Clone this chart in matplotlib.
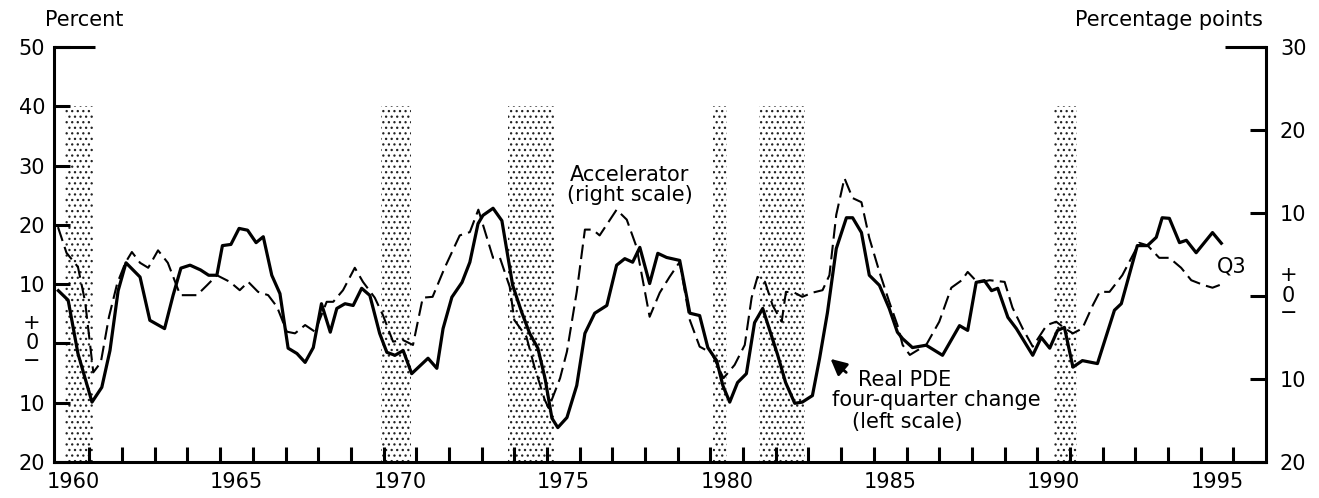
import matplotlib
matplotlib.use("Agg")
import matplotlib.pyplot as plt

plt.rcParams["font.family"] = ["DejaVu Sans"]
plt.rcParams["font.size"] = 15
plt.rcParams["hatch.linewidth"] = 0.9

# Real PDE, four-quarter change (left scale, percent)
pde_year = [1960.05, 1960.35, 1960.65, 1961.08, 1961.38, 1961.63, 1961.88, 1962.12, 1962.55,
            1962.85, 1963.3, 1963.56, 1963.8, 1964.08, 1964.4, 1964.65, 1964.9, 1965.07,
            1965.33, 1965.58, 1965.84, 1966.1, 1966.32, 1966.58, 1966.83, 1967.08, 1967.35,
            1967.6, 1967.85, 1968.1, 1968.37, 1968.57, 1968.82, 1969.07, 1969.33, 1969.58,
            1969.88, 1970.1, 1970.35, 1970.6, 1970.86, 1971.36, 1971.63, 1971.82, 1972.09,
            1972.4, 1972.64, 1972.89, 1973.04, 1973.35, 1973.62, 1973.95, 1974.23, 1974.47,
            1974.72, 1974.94, 1975.15, 1975.33, 1975.61, 1975.91, 1976.16, 1976.46, 1976.83,
            1977.13, 1977.38, 1977.62, 1977.84, 1978.14, 1978.39, 1978.66, 1979.06, 1979.37,
            1979.67, 1979.92, 1980.19, 1980.38, 1980.59, 1980.83, 1981.1, 1981.35, 1981.6,
            1982.06, 1982.3, 1982.58, 1982.81, 1983.12, 1983.34, 1983.58, 1983.85, 1984.16,
            1984.35, 1984.62, 1984.86, 1985.17, 1985.47, 1985.72, 1985.88, 1986.18, 1986.6,
            1987.1, 1987.62, 1987.87, 1988.13, 1988.38, 1988.6, 1988.79, 1989.1, 1989.36,
            1989.86, 1990.12, 1990.38, 1990.62, 1990.83, 1991.09, 1991.38, 1991.84, 1992.36,
            1992.57, 1993.06, 1993.37, 1993.64, 1993.82, 1994.04, 1994.35, 1994.56, 1994.86,
            1995.36, 1995.63]
pde_val = [8.9, 7.3, -1.7, -9.9, -7.4, -1.2, 8.9, 13.6, 11.2,
           3.9, 2.5, 8.1, 12.7, 13.2, 12.4, 11.5, 11.5, 16.5,
           16.7, 19.4, 19.1, 17.0, 18.0, 11.5, 8.4, -0.8, -1.7,
           -3.2, -0.7, 6.7, 1.9, 5.9, 6.7, 6.4, 9.3, 8.1,
           1.7, -1.5, -2.0, -1.2, -5.1, -2.5, -4.2, 2.5, 7.8,
           10.3, 13.7, 20.2, 21.6, 22.8, 20.7, 9.8, 5.2, 1.7,
           -0.8, -5.9, -12.6, -14.2, -12.5, -7.1, 1.7, 5.1, 6.4,
           13.2, 14.3, 13.7, 16.2, 10.1, 15.2, 14.5, 14.0, 5.1,
           4.7, -0.7, -2.9, -7.1, -9.9, -6.6, -5.1, 3.5, 5.9,
           -2.0, -6.6, -10.1, -9.9, -8.8, -2.5, 5.2, 16.0, 21.2,
           21.2, 18.7, 11.5, 9.8, 5.9, 1.9, 0.8, -0.7, -0.3,
           -2.0, 3.0, 2.2, 10.3, 10.6, 8.9, 9.3, 4.4, 2.5,
           -2.0, 1.0, -0.8, 2.2, 2.7, -4.0, -2.9, -3.4, 5.6,
           6.7, 16.5, 16.5, 17.9, 21.2, 21.1, 17.0, 17.4, 15.3,
           18.7, 16.9]

# Accelerator (right scale, percentage points)
acc_year = [1960.04, 1960.3, 1960.65, 1960.87, 1961.12, 1961.35, 1961.6, 1961.85, 1962.1,
            1962.3, 1962.55, 1962.8, 1963.1, 1963.4, 1963.78, 1964.29, 1964.6, 1964.9,
            1965.3, 1965.6, 1965.86, 1966.16, 1966.47, 1966.74, 1967.04, 1967.29, 1967.6,
            1967.9, 1968.26, 1968.46, 1968.76, 1969.12, 1969.37, 1969.73, 1969.98, 1970.29,
            1970.59, 1970.9, 1971.2, 1971.5, 1971.87, 1972.33, 1972.64, 1972.9, 1973.35,
            1973.56, 1973.86, 1974.0, 1974.37, 1974.62, 1974.93, 1975.05, 1975.4, 1975.61,
            1975.91, 1976.16, 1976.4, 1976.61, 1977.13, 1977.44, 1977.74, 1978.14, 1978.45,
            1978.75, 1979.06, 1979.37, 1979.67, 1980.04, 1980.4, 1980.74, 1981.05, 1981.26,
            1981.44, 1981.67, 1981.9, 1982.18, 1982.31, 1982.57, 1982.81, 1983.12, 1983.43,
            1983.64, 1983.85, 1984.1, 1984.35, 1984.62, 1984.86, 1985.17, 1985.47, 1985.72,
            1985.88, 1986.1, 1986.6, 1987.0, 1987.37, 1987.69, 1987.87, 1988.18, 1988.54,
            1989.0, 1989.24, 1989.55, 1989.86, 1990.29, 1990.58, 1990.84, 1991.09, 1991.38,
            1991.7, 1991.91, 1992.21, 1992.6, 1993.12, 1993.37, 1993.73, 1994.04, 1994.4,
            1994.71, 1995.1, 1995.36, 1995.63]
acc_val = [8.3, 5.2, 3.5, -0.7, -9.2, -8.0, -2.5, 1.5, 4.0,
           5.3, 4.0, 3.4, 5.5, 4.0, 0.1, 0.1, 1.3, 2.5,
           1.7, 0.7, 1.7, 0.5, 0.1, -1.3, -4.3, -4.5, -3.5,
           -4.3, -0.7, -0.7, 0.7, 3.4, 1.7, -0.2, -2.3, -5.5,
           -5.3, -5.9, -0.2, -0.1, 3.4, 7.3, 7.7, 10.4, 4.6,
           4.6, 1.1, -2.9, -4.9, -8.6, -12.5, -13.5, -9.9, -6.7,
           0.5, 8.0, 8.0, 7.3, 10.4, 9.2, 5.9, -2.5, 0.4,
           2.3, 4.1, -2.9, -6.1, -6.9, -9.9, -8.3, -5.9, -0.2,
           2.3, 1.7, -1.1, -3.1, 0.5, 0.4, -0.1, 0.4, 0.7,
           2.5, 9.8, 14.2, 11.8, 11.3, 7.0, 2.9, -0.7, -3.5,
           -5.9, -7.1, -5.9, -3.1, 1.0, 1.9, 2.9, 1.6, 1.9,
           1.7, -1.4, -3.9, -6.1, -3.5, -3.1, -3.9, -4.5, -3.9,
           -1.1, 0.5, 0.5, 2.5, 6.4, 6.1, 4.6, 4.6, 3.4,
           1.9, 1.3, 1.0, 1.4]

# recessions (shaded)
rec_start = [1960.25, 1969.92, 1973.8, 1980.07, 1981.5, 1990.5]
rec_end = [1961.1, 1970.83, 1975.2, 1980.52, 1982.88, 1991.2]
rec_top = 40

left_ticks = [-20, -10, 0, 10, 20, 30, 40, 50]
left_labels = ["20", "10", "", "10", "20", "30", "40", "50"]
right_ticks = [-20, -10, 0, 10, 20, 30]
right_labels = ["20", "10", "", "10", "20", "30"]
year_ticks = list(range(1961, 1997))
year_label_pos = [1960.5, 1965.5, 1970.5, 1975.5, 1980.5, 1985.5, 1990.5, 1995.5]
year_labels = ["1960", "1965", "1970", "1975", "1980", "1985", "1990", "1995"]

fig = plt.figure(figsize=(13.19, 4.98), dpi=100)
ax = fig.add_axes([0.041, 0.0723, 0.9189, 0.8333])
ax2 = ax.twinx()

ax.set_xlim(1959.92, 1997.0)
ax.set_ylim(-20, 50)
ax2.set_ylim(-20, 30)

for s, e in zip(rec_start, rec_end):
    ax.axvspan(s, e, ymin=0, ymax=(rec_top + 20) / 70, facecolor="white",
               edgecolor="#222222", hatch="...", linewidth=0, zorder=0)

ax.plot(pde_year, pde_val, color="black", lw=2.3, zorder=3)
ax2.plot(acc_year, acc_val, color="black", lw=1.5, dashes=(7, 3))

for a in (ax, ax2):
    a.spines["top"].set_visible(False)
ax.spines["right"].set_visible(False)
ax2.spines["left"].set_visible(False)
ax2.spines["bottom"].set_visible(False)
for sp in ("left", "bottom"):
    ax.spines[sp].set_linewidth(2.2)
ax2.spines["right"].set_linewidth(2.2)

# short caps at the top of each scale
ax.plot([0, 0.034], [1, 1], transform=ax.transAxes, color="black", lw=2.2,
        clip_on=False, solid_capstyle="butt")
ax2.plot([0.966, 1], [1, 1], transform=ax2.transAxes, color="black", lw=2.2,
         clip_on=False, solid_capstyle="butt")

ax.set_yticks(left_ticks)
ax.set_yticklabels(left_labels)
ax.tick_params(axis="y", direction="in", length=11.5, width=2.2, pad=6.5)
ax2.set_yticks(right_ticks)
ax2.set_yticklabels(right_labels)
ax2.tick_params(axis="y", direction="in", length=11.5, width=2.2, pad=10)

ax.set_xticks(year_ticks)
ax.set_xticklabels([])
ax.tick_params(axis="x", which="major", direction="in", length=10.8, width=2.2)
ax.set_xticks(year_label_pos, minor=True)
ax.set_xticklabels(year_labels, minor=True)
ax.tick_params(axis="x", which="minor", length=0, pad=7)

# "+ 0 -" zero labels
for txt, dy in (("+", 15), ("0", 0), ("\u2212", -12.5)):
    ax.annotate(txt, xy=(0, 0), xycoords=("axes fraction", "data"), xytext=(-16, dy),
                textcoords="offset points", ha="center", va="center")
    ax2.annotate(txt, xy=(1, 0), xycoords=("axes fraction", "data"), xytext=(16, dy),
                 textcoords="offset points", ha="center", va="center")

ax.text(-0.0074, 1.065, "Percent", transform=ax.transAxes, ha="left", va="center")
ax.text(0.9975, 1.065, "Percentage points", transform=ax.transAxes, ha="right", va="center")

ax.text(1977.53, 26.7, "Accelerator\n(right scale)", ha="center", va="center", linespacing=1.0)
ax.text(1995.5, 12.9, "Q3", ha="left", va="center")
ax.text(1984.5, -6.2, "Real PDE", ha="left", va="center")
ax.text(1983.73, -9.5, "four-quarter change", ha="left", va="center")
ax.text(1984.32, -13.2, "(left scale)", ha="left", va="center")
ax.annotate("", xy=(1983.61, -2.3), xytext=(1984.22, -5.2),
            arrowprops=dict(arrowstyle="-|>", color="black", lw=2, mutation_scale=24))

fig.savefig("out.png", dpi=100)
